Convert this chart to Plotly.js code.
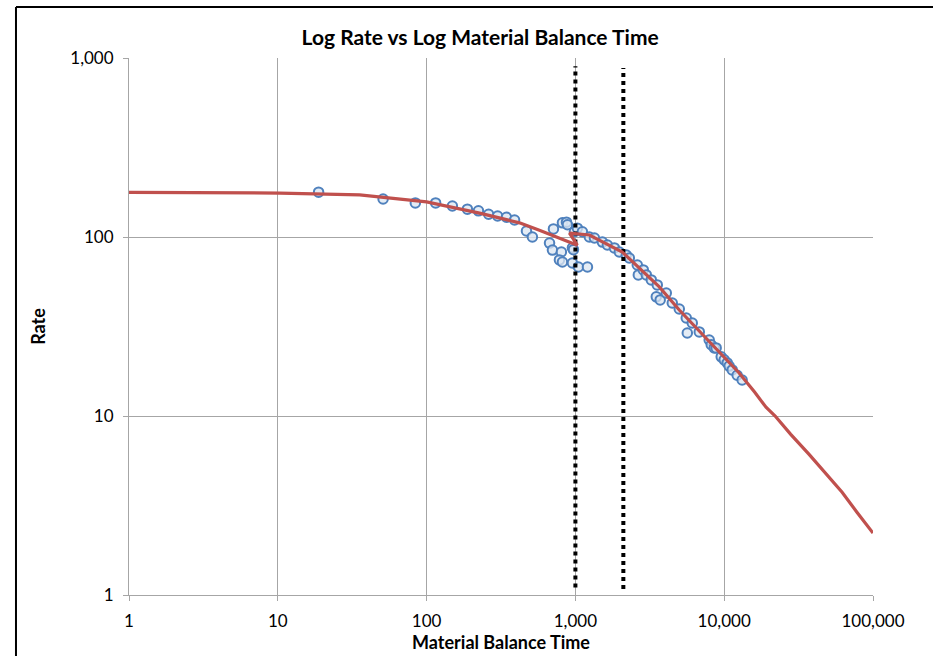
<!DOCTYPE html>
<html>
<head>
<meta charset="utf-8">
<script src="https://cdn.plot.ly/plotly-3.0.1.min.js"></script>
<style>html,body{margin:0;padding:0;background:#fff;}#chart{width:933px;height:656px;}</style>
</head>
<body>
<div id="chart"></div>
<script>
// Observed data points (material balance time, rate)
const obsTime = [18.8, 51, 84, 115, 149, 188, 223, 261, 300, 344, 390,
  469, 514, 712, 670, 701, 805, 781, 818, 818, 871, 884, 955, 955, 1047, 1205,
  985, 1031, 1114, 1241, 1342, 1518, 1640, 1828, 1973, 2198, 2303, 2606, 2648,
  2860, 2997, 3237, 3550, 3497, 3713, 4080, 4477, 4990, 5560, 6100, 5650, 6800,
  7930, 8180, 8570, 8830, 9550, 10000, 10480, 10800, 11320, 12220, 13200, 970];
const obsRate = [178, 163, 155, 155, 149, 143, 140, 134, 131, 129, 124.5,
  108, 100, 111, 92.5, 84.5, 82.4, 74.5, 72.5, 120, 121, 117, 87, 71.6, 68, 68,
  107, 112, 107, 100, 98.7, 93.7, 90.2, 86.9, 82.5, 79.3, 76.3, 69.8, 61.4,
  65.5, 61.4, 57.6, 54, 46.3, 44.5, 48.6, 42.8, 39.6, 35.3, 33.1, 29.1, 29.5,
  26.6, 25, 24.0, 24.0, 21.4, 20.6, 19.8, 19.0, 18.1, 16.9, 15.9, 85];

// Fitted curve
const fitTime = [1, 3, 10.3, 35.5, 100, 227, 421, 573, 1030, 912, 1241, 2066,
  3663, 4990, 12600, 16000, 19100, 22000, 28000, 37200, 47000, 62000, 78000, 100000];
const fitRate = [177.5, 177.5, 176, 172, 157, 136, 120, 109, 90, 105, 102.6, 82.4,
  52.6, 39.1, 17.4, 13.6, 11.2, 10, 7.9, 6.1, 4.9, 3.75, 2.9, 2.22];

// Vertical marker lines
const marker1Time = [1000, 1000];
const marker1Rate = [1.1, 900];
const marker2Time = [2100, 2100];
const marker2Rate = [1.08, 880];

const xTickVals = [1, 10, 100, 1000, 10000, 100000];
const xTickText = ['1', '10', '100', '1,000', '10,000', '100,000'];
const yTickVals = [1, 10, 100, 1000];
const yTickText = ['1', '10', '100', '1,000'];

const FONT = 'Lato, "Open Sans", Arial, sans-serif';

const traces = [
  {
    x: obsTime, y: obsRate, type: 'scatter', mode: 'markers',
    marker: {symbol: 'circle', size: 9.5, color: 'rgba(219,229,241,0.75)',
             line: {color: '#4f81bd', width: 2}},
    hoverinfo: 'x+y', showlegend: false
  },
  {
    x: marker1Time, y: marker1Rate, type: 'scatter', mode: 'lines',
    line: {color: '#000000', width: 4, dash: '4px,4px'}, showlegend: false
  },
  {
    x: marker2Time, y: marker2Rate, type: 'scatter', mode: 'lines',
    line: {color: '#000000', width: 4, dash: '4px,4px'}, showlegend: false
  },
  {
    x: fitTime, y: fitRate, type: 'scatter', mode: 'lines',
    line: {color: '#c0504d', width: 3.2}, showlegend: false
  }
];

const layout = {
  width: 933, height: 656,
  margin: {l: 129, r: 60, t: 58, b: 61},
  paper_bgcolor: '#ffffff', plot_bgcolor: '#ffffff',
  font: {family: FONT, size: 17, color: '#000000'},
  title: {
    text: '<b>Log Rate vs Log Material Balance Time</b>',
    font: {family: FONT, size: 21, color: '#000000'},
    x: 0.472, xref: 'paper', xanchor: 'center',
    y: 0.942, yref: 'container', yanchor: 'middle'
  },
  xaxis: {
    type: 'log', range: [0, 5],
    tickvals: xTickVals, ticktext: xTickText,
    showgrid: true, gridcolor: '#a6a6a6', gridwidth: 1,
    showline: true, linecolor: '#a6a6a6', linewidth: 1,
    ticks: 'outside', ticklen: 5, tickcolor: '#a6a6a6',
    zeroline: false,
    tickfont: {family: FONT, size: 17, color: '#000000'},
    ticklabelstandoff: 6,
    title: {text: '<b>Material Balance Time</b>', font: {family: FONT, size: 18, color: '#000000'}, standoff: 2}
  },
  yaxis: {
    type: 'log', range: [0, 3],
    tickvals: yTickVals, ticktext: yTickText,
    showgrid: true, gridcolor: '#a6a6a6', gridwidth: 1,
    showline: true, linecolor: '#a6a6a6', linewidth: 1,
    ticks: 'outside', ticklen: 5, tickcolor: '#a6a6a6',
    zeroline: false,
    tickfont: {family: FONT, size: 17, color: '#000000'},
    ticklabelstandoff: 6,
    title: {text: '<b>Rate</b>', font: {family: FONT, size: 18, color: '#000000'}, standoff: 19}
  },
  shapes: [
    {type: 'line', xref: 'paper', yref: 'paper', x0: -0.1519, x1: 1.2, y0: 1.095, y1: 1.095,
     line: {color: '#000000', width: 2}},
    {type: 'line', xref: 'paper', yref: 'paper', x0: -0.1519, x1: -0.1519, y0: 1.095, y1: -0.2,
     line: {color: '#000000', width: 2}}
  ]
};

Plotly.newPlot('chart', traces, layout, {displayModeBar: false, staticPlot: true});
</script>
</body>
</html>
